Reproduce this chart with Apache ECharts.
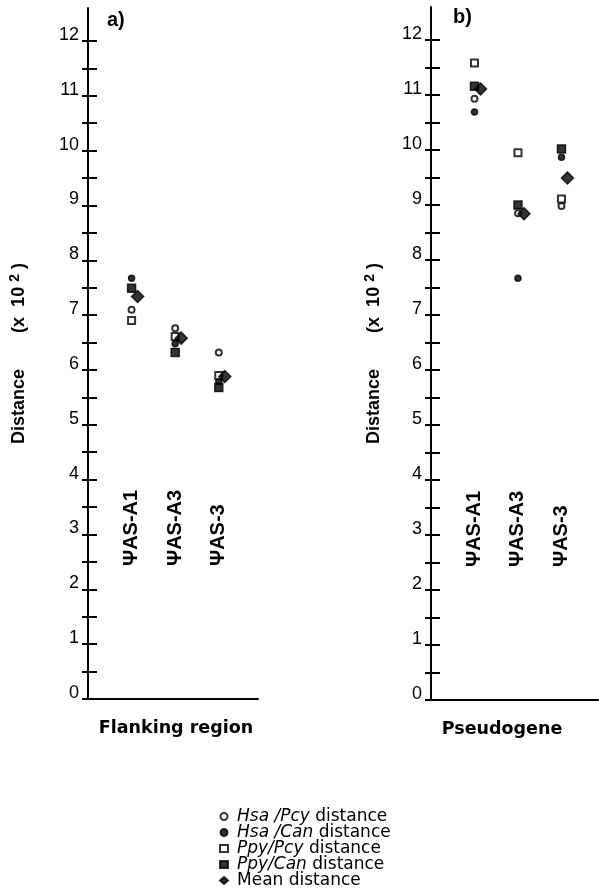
<!DOCTYPE html>
<html>
<head>
<meta charset="utf-8">
<script src="https://cdn.jsdelivr.net/npm/echarts@6/dist/echarts.min.js"></script>
<style>
  html, body { margin: 0; padding: 0; background: #fff; }
  #chart { width: 599px; height: 896px; }
</style>
</head>
<body>
<div id="chart"></div>
<script>
// loci, in the order they sit on the x axis
const categories = ['\u03A8AS-A1', '\u03A8AS-A3', '\u03A8AS-3'];
const catPos = [1, 2, 3];

// a) flanking region, distance x 10^2
const flankHsaPcy = [7.10, 6.76, 6.32];
const flankHsaCan = [7.67, 6.48, 5.79];
const flankPpyPcy = [6.90, 6.61, 5.90];
const flankPpyCan = [7.49, 6.32, 5.68];
const flankMean = [7.34, 6.58, 5.88];

// b) pseudogene
const pseudoHsaPcy = [10.93, 8.85, 8.98];
const pseudoHsaCan = [10.69, 7.67, 9.87];
const pseudoPpyPcy = [11.58, 9.95, 9.11];
const pseudoPpyCan = [11.16, 9.00, 10.02];
const pseudoMean = [11.11, 8.84, 9.49];

const yTicks = [0, 0.5, 1, 1.5, 2, 2.5, 3, 3.5, 4, 4.5, 5, 5.5, 6, 6.5, 7, 7.5, 8, 8.5, 9, 9.5, 10, 10.5, 11, 11.5, 12];
const yTickLabels = [0, 1, 2, 3, 4, 5, 6, 7, 8, 9, 10, 11, 12];

const FONT = '"Liberation Sans", Arial, Helvetica, sans-serif';
const WIDE = '"DejaVu Sans", Verdana, sans-serif';

const names = ['Hsa /Pcy distance', 'Hsa /Can distance', 'Ppy/Pcy distance', 'Ppy/Can distance', 'Mean distance'];
const legendText = {
  'Hsa /Pcy distance': '{i|Hsa /Pcy} distance',
  'Hsa /Can distance': '{i|Hsa /Can} distance',
  'Ppy/Pcy distance': '{i|Ppy/Pcy} distance',
  'Ppy/Can distance': '{i|Ppy/Can} distance',
  'Mean distance': 'Mean distance'
};
const symbols = ['emptyCircle', 'circle', 'emptyRect', 'rect', 'diamond'];
const sizes = [6, 6, 7, 8, 12];

function pts(vals) {
  return vals.map((v, i) => [catPos[i], v]);
}

function panelSeries(gridIdx, arrays) {
  return arrays.map((arr, k) => ({
    name: names[k],
    type: 'scatter',
    xAxisIndex: gridIdx,
    yAxisIndex: gridIdx * 2,
    symbol: symbols[k],
    symbolSize: sizes[k],
    symbolOffset: k === 4 ? [6, 0] : [0, 0],
    z: k === 4 ? 5 : 3,
    itemStyle: { color: '#000', borderColor: '#000', borderWidth: 1.5 },
    data: pts(arr)
  }));
}

const yName = '{d|Distance}{p|(x  10 }{s|2}{p| )}';
const yNameRich = {
  d: { fontFamily: FONT, fontSize: 18, fontWeight: 'bold', color: '#000', lineHeight: 20, verticalAlign: 'bottom', padding: [0, 36, 0, 0] },
  p: { fontFamily: FONT, fontSize: 18, fontWeight: 'bold', color: '#000', lineHeight: 20, verticalAlign: 'bottom' },
  s: { fontFamily: FONT, fontSize: 14, fontWeight: 'bold', color: '#000', lineHeight: 14, verticalAlign: 'top' }
};

function yAxes(gridIdx, gap) {
  return [{
    type: 'value',
    gridIndex: gridIdx,
    min: 0,
    max: 12.6,
    position: 'left',
    name: yName,
    nameLocation: 'middle',
    nameGap: gap,
    nameRotate: 90,
    nameTextStyle: { fontFamily: FONT, fontSize: 18, fontWeight: 'bold', color: '#000', rich: yNameRich },
    axisLine: { show: true, lineStyle: { color: '#000', width: 2 } },
    axisTick: { show: true, length: 6, customValues: yTicks, lineStyle: { color: '#000', width: 2 } },
    axisLabel: {
      customValues: yTickLabels,
      fontFamily: FONT, fontSize: 18, color: '#000',
      margin: 9, verticalAlign: 'bottom', lineHeight: 12
    },
    splitLine: { show: false }
  }, {
    type: 'value',
    gridIndex: gridIdx,
    min: 0,
    max: 12.6,
    position: 'left',
    axisLine: { show: false },
    axisTick: { show: true, inside: true, length: 9, customValues: yTicks, lineStyle: { color: '#000', width: 2 } },
    axisLabel: { show: false },
    splitLine: { show: false }
  }];
}

function xAxis(gridIdx, name, max, pad) {
  return {
    type: 'value',
    gridIndex: gridIdx,
    min: 0,
    max: max,
    name: name,
    nameLocation: 'middle',
    nameGap: 20,
    nameTextStyle: { fontFamily: WIDE, fontSize: 17.5, fontWeight: 'bold', color: '#000', padding: pad },
    axisLine: { show: true, lineStyle: { color: '#000', width: 2 } },
    axisTick: { show: false },
    axisLabel: {
      customValues: catPos,
      formatter: v => categories[catPos.indexOf(v)] || '',
      inside: true,
      rotate: 90,
      margin: 133,
      fontFamily: FONT, fontSize: 20, fontWeight: 'bold', color: '#000'
    },
    splitLine: { show: false }
  };
}

const chart = echarts.init(document.getElementById('chart'));
chart.setOption({
  animation: false,
  backgroundColor: '#fff',
  title: [
    { text: 'a)', left: 107, top: 10, padding: 0, textStyle: { fontFamily: FONT, fontSize: 20, fontWeight: 'bold', color: '#000' } },
    { text: 'b)', left: 453, top: 7, padding: 0, textStyle: { fontFamily: FONT, fontSize: 20, fontWeight: 'bold', color: '#000' } }
  ],
  grid: [
    { left: 88, top: 8, width: 170, height: 691 },
    { left: 431, top: 7, width: 167, height: 693 }
  ],
  xAxis: [
    xAxis(0, 'Flanking region', 3.9, [0, 0, 0, 6]),
    xAxis(1, 'Pseudogene', 3.84, [0, 25, 0, 0])
  ],
  yAxis: yAxes(0, 60).concat(yAxes(1, 48)),
  legend: {
    data: names.map((n, k) => ({ name: n, icon: symbols[k] })),
    orient: 'vertical',
    left: 219,
    top: 808,
    height: 88,
    padding: 0,
    itemWidth: 8,
    itemHeight: 7,
    itemGap: -1,
    formatter: n => legendText[n],
    textStyle: {
      fontFamily: WIDE, fontSize: 17, color: '#000', lineHeight: 16, padding: [0, 0, 0, 4],
      rich: { i: { fontFamily: WIDE, fontSize: 17, fontStyle: 'italic', color: '#000', lineHeight: 16 } }
    }
  },
  series: panelSeries(0, [flankHsaPcy, flankHsaCan, flankPpyPcy, flankPpyCan, flankMean])
    .concat(panelSeries(1, [pseudoHsaPcy, pseudoHsaCan, pseudoPpyPcy, pseudoPpyCan, pseudoMean]))
});
</script>
</body>
</html>
